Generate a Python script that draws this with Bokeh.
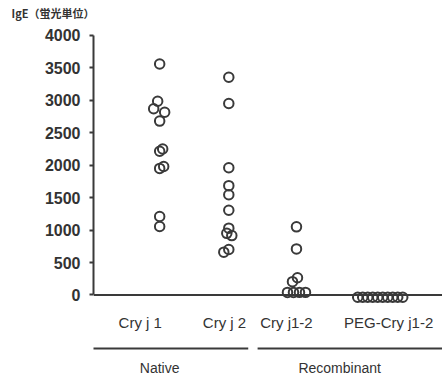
from bokeh.plotting import figure
from bokeh.models import Span, Title, FixedTicker, Range1d
from bokeh.core.properties import value
from bokeh.embed import file_html
from bokeh.resources import INLINE

# ---------------- DATA ----------------
title_text = "IgE（蛍光単位）"
categories = ["Cry j 1", "Cry j 2", "Cry j1-2", "PEG-Cry j1-2"]
groups = ["Native", "Recombinant"]
y_ticks = [0, 500, 1000, 1500, 2000, 2500, 3000, 3500, 4000]

cry_j1 = [3560, 2985, 2870, 2815, 2680, 2250, 2215, 1980, 1950, 1210, 1055]
cry_j2 = [3355, 2950, 1960, 1685, 1545, 1305, 1030, 950, 915, 700, 660]
cry_j12 = [1050, 710, 265, 205, 40, 40, 40, 40]
peg_cry_j12 = [-35, -35, -35, -35, -35, -35, -35, -35, -35, -35]

# ---------------- LAYOUT ----------------
PX = 72.0  # pixels per category unit
cat_x = [0.03, 0.99, 1.93, 3.10]          # point column centres
label_x = [-0.24, 0.93, 1.79, 3.21]       # category label centres
jitter_px = [
    [0, -2, -6, 5, 0, 3, 0, 4, 0, 0, 0],
    [0, 0, 0, 0, 0, 0, 0, -2, 3, 0, -5],
    [0, 0, 1, -4, -9, -3, 3, 9],
    [-23, -18, -13, -8, -3, 2, 7, 12, 17, 22],
]
group_span = [(-0.93, 1.26), (1.39, 3.97)]
group_label_x = [0.03, 2.53]
cat_label_y = -430
group_line_y = -825
group_label_y = -1130

TEXT = "#333333"
LINE = "#3a3a3a"

p = figure(width=442, height=380, output_backend="svg", toolbar_location=None,
           x_range=Range1d(-0.889, 3.958), y_range=Range1d(-1318, 4199),
           x_axis_location=None, y_axis_location="left",
           min_border_left=93, min_border_right=0, min_border_top=0,
           min_border_bottom=0)
p.outline_line_color = None
p.grid.visible = False
p.background_fill_color = "white"
p.border_fill_color = "white"

# axis title (top-left)
p.title = Title(text=title_text, align="left", offset=-82, standoff=4,
                text_font="Noto Sans CJK JP", text_font_size="11px",
                text_font_style="bold", text_color=TEXT)

ax = p.yaxis[0]
ax.bounds = (0, 4000)
ax.ticker = FixedTicker(ticks=y_ticks)
ax.axis_line_color = LINE
ax.axis_line_width = 2
ax.major_tick_line_color = LINE
ax.major_tick_line_width = 2
ax.major_tick_out = 4
ax.major_tick_in = 0
ax.minor_tick_line_color = None
ax.major_label_standoff = 9
ax.major_label_text_font = "Liberation Sans"
ax.major_label_text_font_style = "bold"
ax.major_label_text_font_size = "16px"
ax.major_label_text_color = TEXT

# baseline at zero
p.add_layout(Span(location=0, dimension="width", line_color=LINE, line_width=2))

# points
series = [cry_j1, cry_j2, cry_j12, peg_cry_j12]
xs, ys = [], []
for i, vals in enumerate(series):
    for v, d in zip(vals, jitter_px[i]):
        xs.append(cat_x[i] + d / PX)
        ys.append(v)
p.scatter(xs, ys, marker="circle", size=9.5, fill_alpha=0,
          line_color=LINE, line_width=2)

# category labels
p.text(x=label_x, y=[cat_label_y] * len(categories), text=categories,
       text_font=value("Liberation Sans"), text_font_size="15px",
       text_color=TEXT, text_align="center", text_baseline="middle")

# group lines and labels
p.segment(x0=[g[0] for g in group_span], y0=[group_line_y] * 2,
          x1=[g[1] for g in group_span], y1=[group_line_y] * 2,
          line_color=LINE, line_width=2)
p.text(x=group_label_x, y=[group_label_y] * len(groups), text=groups,
       text_font=value("Liberation Sans"), text_font_size="14px",
       text_color=TEXT, text_align="center", text_baseline="middle")

open("out.html", "w").write(file_html(p, INLINE))
